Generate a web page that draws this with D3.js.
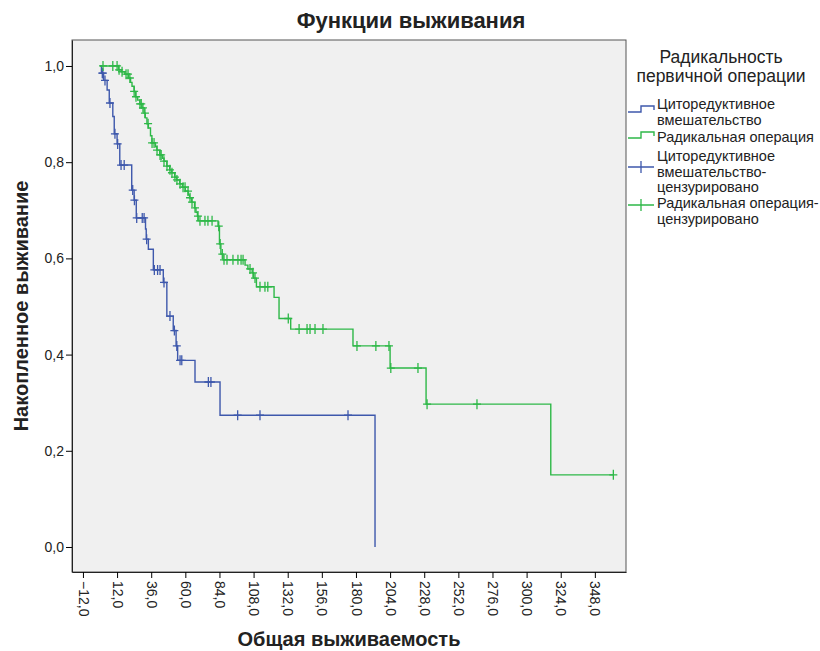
<!DOCTYPE html>
<html>
<head>
<meta charset="utf-8">
<script src="https://cdn.jsdelivr.net/npm/d3@7"></script>
<style>
  html, body { margin: 0; padding: 0; background: #ffffff; }
  svg { display: block; font-family: "Liberation Sans", Arial, sans-serif; }
</style>
</head>
<body>
<svg id="chart" width="820" height="651"></svg>
<script>
// Kaplan–Meier survival by radicality of the primary operation (months)
const groupNames = ["Циторедуктивное вмешательство", "Радикальная операция"];
const groupColors = ["#3e58ac", "#2eb848"];

// Cytoreductive group: event times and survival after each event
const cytoEventTimes = [1, 2.5, 5, 6.5, 9, 10, 12, 13.9, 22.3, 24, 25.5, 32, 32.5, 34, 37.5,
  44.5, 47, 51.5, 53.5, 54.6, 66.8, 84.4, 193.4];
const cytoSurvival = [0.985, 0.970, 0.950, 0.923, 0.895, 0.859, 0.838, 0.794, 0.742, 0.721, 0.684,
  0.661, 0.640, 0.619, 0.576, 0.550, 0.480, 0.450, 0.418, 0.388, 0.343, 0.274, 0.0];
const cytoCensored = [1.6, 2.0, 3.5, 7, 10.5, 12.4, 14.8, 17, 23, 24.2, 25.8, 29.7, 31, 32.8,
  38.2, 40.5, 42.2, 45, 49.2, 52.3, 54, 56.3, 57.5, 76.2, 78, 96.8, 112.5, 174.4];

// Radical operation group
const radEventTimes = [13, 15, 17.5, 20, 21.5, 22.5, 24, 25, 26.5, 28, 29.5, 31, 31.8, 33, 34,
  35.5, 36.5, 39, 40, 42, 44, 45, 47, 49, 50.5, 52.5, 54, 56, 58, 60, 62, 63, 64.5, 66.5, 67.5,
  68.5, 69, 83, 84, 85, 86.5, 102, 104, 107, 108, 110, 122.4, 125.9, 134.1, 177.9, 204, 229.3, 317];
const radSurvival = [0.992, 0.988, 0.983, 0.975, 0.966, 0.958, 0.947, 0.936, 0.929, 0.921, 0.913,
  0.902, 0.892, 0.880, 0.871, 0.855, 0.840, 0.832, 0.825, 0.815, 0.808, 0.802, 0.792, 0.784, 0.778,
  0.769, 0.763, 0.755, 0.748, 0.740, 0.732, 0.726, 0.717, 0.705, 0.696, 0.688, 0.678, 0.667, 0.630,
  0.609, 0.597, 0.586, 0.578, 0.570, 0.559, 0.541, 0.519, 0.475, 0.453, 0.418, 0.372, 0.297, 0.150];
const radCensored = [2.1, 9, 12, 13.4, 15.5, 18.3, 19.7, 21, 24, 25.3, 28.1, 29, 30.2, 31.6, 33.8,
  36.6, 38, 40.1, 42.2, 43, 45, 47.1, 49.2, 50.6, 52.7, 54.1, 56.3, 58.4, 59.8, 61.9, 63.3, 64.7,
  66.8, 68.9, 70.3, 73.8, 75.9, 78.8, 83.5, 84.5, 86, 87.2, 89.3, 93.5, 97, 99.2, 100.6, 105.5,
  107.6, 109, 112.5, 116, 118, 132.4, 140, 145.6, 147.7, 151.2, 156.8, 180.7, 194, 203.2, 204.5,
  223.6, 230, 265.1, 361];

const xTicks = [-12, 12, 36, 60, 84, 108, 132, 156, 180, 204, 228, 252, 276, 300, 324, 348];
const yTicks = [0, 0.2, 0.4, 0.6, 0.8, 1.0];

const svg = d3.select("#chart");
const plot = { left: 72, right: 626, top: 40, bottom: 572 };

const x = d3.scaleLinear().domain([-19.7, 369.9]).range([plot.left, plot.right]);
const y = d3.scaleLinear().domain([-0.052, 1.054]).range([plot.bottom, plot.top]);

const fmt = d => d3.format(".1f")(d).replace(".", ",");

// plot background and frame
svg.append("rect")
  .attr("x", plot.left).attr("y", plot.top)
  .attr("width", plot.right - plot.left).attr("height", plot.bottom - plot.top)
  .attr("fill", "#f0f0f0").attr("stroke", "#555").attr("stroke-width", 1);

// axes
const yAxis = svg.append("g")
  .attr("transform", `translate(${plot.left},0)`)
  .call(d3.axisLeft(y).tickValues(yTicks).tickFormat(fmt).tickSize(6).tickSizeOuter(0));
yAxis.select(".domain").attr("stroke", "#222");
yAxis.selectAll("text").attr("font-size", 14).attr("fill", "#222").attr("x", -8);

const xAxis = svg.append("g")
  .attr("transform", `translate(0,${plot.bottom})`)
  .call(d3.axisBottom(x).tickValues(xTicks).tickFormat(fmt).tickSize(6).tickSizeOuter(0));
xAxis.select(".domain").attr("stroke", "#222");
xAxis.selectAll("text")
  .attr("font-size", 14).attr("fill", "#222")
  .attr("transform", "rotate(90)")
  .attr("x", 9).attr("y", 0).attr("dy", "0.35em")
  .attr("text-anchor", "start");

// survival curves
function survivalAt(times, surv, t) {
  let s = 1;
  for (let i = 0; i < times.length; i++) { if (times[i] <= t) s = surv[i]; }
  return s;
}

const groups = [
  { times: cytoEventTimes, surv: cytoSurvival, cens: cytoCensored, color: groupColors[0] },
  { times: radEventTimes, surv: radSurvival, cens: radCensored, color: groupColors[1] }
];

const stepLine = d3.line().x(d => x(d[0])).y(d => y(d[1])).curve(d3.curveStepAfter);

groups.forEach(g => {
  const pts = [[0, 1]].concat(g.times.map((t, i) => [t, g.surv[i]]));
  const lastCens = d3.max(g.cens);
  const lastT = g.times[g.times.length - 1];
  if (lastCens > lastT) pts.push([lastCens, g.surv[g.surv.length - 1]]);
  svg.append("path").datum(pts)
    .attr("d", stepLine)
    .attr("fill", "none").attr("stroke", g.color).attr("stroke-width", 1.4);

  svg.append("g").selectAll("path")
    .data(g.cens)
    .join("path")
    .attr("transform", t => `translate(${x(t)},${y(survivalAt(g.times, g.surv, t))})`)
    .attr("d", "M-4,0H4M0,-5V5")
    .attr("stroke", g.color).attr("stroke-width", 1.3).attr("fill", "none");
});

// titles
svg.append("text").attr("x", 411).attr("y", 28).attr("text-anchor", "middle")
  .attr("font-size", 22).attr("font-weight", "bold").attr("fill", "#222")
  .text("Функции выживания");
svg.append("text").attr("x", 349).attr("y", 646).attr("text-anchor", "middle")
  .attr("font-size", 20).attr("font-weight", "bold").attr("fill", "#222")
  .text("Общая выживаемость");
svg.append("text").attr("transform", "translate(28,306) rotate(-90)").attr("text-anchor", "middle")
  .attr("font-size", 20).attr("font-weight", "bold").attr("fill", "#222")
  .text("Накопленное выживание");

// legend
const lg = svg.append("g").attr("font-size", 14.5).attr("fill", "#222");
lg.append("text").attr("x", 721).attr("y", 63).attr("text-anchor", "middle").attr("font-size", 17.5).text("Радикальность");
lg.append("text").attr("x", 721).attr("y", 82).attr("text-anchor", "middle").attr("font-size", 17.5).text("первичной операции");

const legendItems = [
  { lines: ["Циторедуктивное", "вмешательство"], color: groupColors[0], kind: "step", sy: 112, ty: 109 },
  { lines: ["Радикальная операция"], color: groupColors[1], kind: "step", sy: 138, ty: 142 },
  { lines: ["Циторедуктивное", "вмешательство-", "цензурировано"], color: groupColors[0], kind: "cross", sy: 167, ty: 161 },
  { lines: ["Радикальная операция-", "цензурировано"], color: groupColors[1], kind: "cross", sy: 205, ty: 208 }
];
legendItems.forEach(it => {
  if (it.kind === "step") {
    lg.append("path")
      .attr("d", `M628,${it.sy}H641V${it.sy - 6}H654V${it.sy - 2}`)
      .attr("fill", "none").attr("stroke", it.color).attr("stroke-width", 1.4);
  } else {
    lg.append("path")
      .attr("d", `M628,${it.sy}H654M641,${it.sy - 6}V${it.sy + 6}`)
      .attr("fill", "none").attr("stroke", it.color).attr("stroke-width", 1.3);
  }
  it.lines.forEach((l, i) => {
    lg.append("text").attr("x", 657).attr("y", it.ty + i * 15.5).text(l);
  });
});
</script>
</body>
</html>
